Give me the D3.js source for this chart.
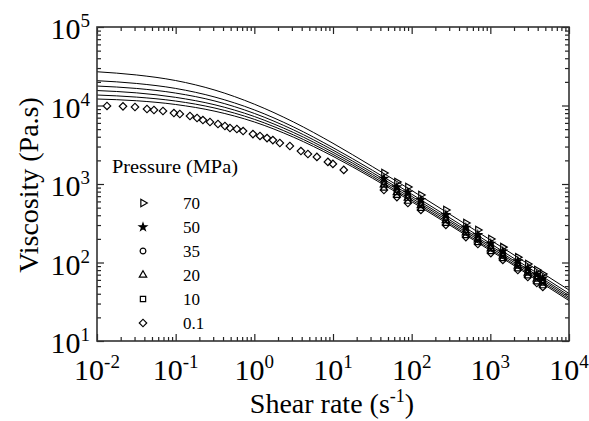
<!DOCTYPE html>
<html>
<head>
<meta charset="utf-8">
<script src="https://cdn.jsdelivr.net/npm/d3@7"></script>
<style>
  body { margin: 0; background: #fff; }
  text { font-family: "Liberation Serif", "Times New Roman", serif; fill: #000; }
</style>
</head>
<body>
<div id="chart"></div>
<script>
// pressures (MPa), top to bottom in legend
const pressures = ['70', '50', '35', '20', '10', '0.1'];

// fitted curves
const fitRates = [0.01, 0.0316, 0.1, 0.316, 1, 3.16, 10, 31.6, 100, 1000, 10000];
const fit70 = [26900, 24500, 20800, 15700, 10400, 6150, 3300, 1670, 828, 194, 44.6];
const fit50 = [20700, 19100, 16500, 12800, 8790, 5320, 2900, 1500, 743, 175, 40.3];
const fit35 = [17700, 16500, 14400, 11400, 7930, 4880, 2700, 1400, 697, 164, 37.9];
const fit20 = [15500, 14500, 12700, 10200, 7240, 4520, 2530, 1320, 659, 156, 36.0];
const fit10 = [13600, 12800, 11400, 9270, 6670, 4210, 2380, 1250, 625, 148, 34.3];
const fit01 = [12100, 11500, 10300, 8450, 6170, 3940, 2250, 1190, 596, 142, 32.7];

// high shear measurements (all pressures)
const highRates = [44.4, 64.9, 89.5, 131, 272, 489, 694, 1015, 1442, 2235, 2993, 3896, 4645];
const visc70 = [1380, 1060, 916, 724, 467, 318, 259, 199, 157, 117, 95.7, 80.2, 71.4];
const visc50 = [1170, 916, 785, 627, 404, 278, 226, 174, 139, 104, 84.3, 70.8, 63.0];
const visc35 = [1060, 841, 716, 575, 371, 257, 209, 161, 129, 96.2, 78.3, 65.8, 58.5];
const visc20 = [977, 780, 661, 533, 344, 239, 195, 150, 121, 90.2, 73.5, 61.5, 54.8];
const visc10 = [903, 728, 614, 498, 321, 224, 183, 140, 114, 84.7, 69.0, 57.9, 51.5];
const visc01 = [839, 682, 573, 467, 301, 211, 172, 132, 108, 80.2, 65.3, 54.8, 48.8];

// low shear measurements at 0.1 MPa
const lowRates01 = [0.0134, 0.0214, 0.0304, 0.0432, 0.053, 0.069, 0.095, 0.113, 0.152, 0.187,
  0.222, 0.273, 0.345, 0.423, 0.49, 0.60, 0.72, 0.96, 1.18, 1.45,
  1.72, 2.11, 2.83, 3.91, 4.80, 6.24, 8.61, 9.97, 13.7];
const lowVisc01 = [9860, 9750, 9570, 9020, 8760, 8510, 8020, 7790, 7350, 6930,
  6530, 6160, 5810, 5480, 5170, 5020, 4730, 4330, 4090, 3850,
  3630, 3330, 3050, 2630, 2410, 2210, 1910, 1800, 1510];

const xMajor = [-2, -1, 0, 1, 2, 3, 4];
const yMajor = [1, 2, 3, 4, 5];

const width = 589;
const height = 421;
const margin = {top: 27, right: 20, bottom: 80, left: 97};

const svg = d3.select('#chart')
    .append('svg')
    .attr('width', width)
    .attr('height', height);

const x = d3.scaleLog()
    .domain([1e-2, 1e4])
    .range([margin.left, width - margin.right]);

const y = d3.scaleLog()
    .domain([10, 1e5])
    .range([height - margin.bottom, margin.top]);

// minor tick values
const minors = (lo, hi) => {
    const out = [];
    for (let e = lo; e < hi; e++) {
        for (let k = 2; k <= 9; k++) out.push(k * Math.pow(10, e));
    }
    return out;
};
const xMinor = minors(-2, 4);
const yMinor = minors(1, 5);

// fit curves
const fits = [fit70, fit50, fit35, fit20, fit10, fit01];
const line = d3.line()
    .x((d, i) => x(fitRates[i]))
    .y(d => y(d))
    .curve(d3.curveMonotoneX);

svg.append('g')
    .selectAll('path')
    .data(fits)
    .join('path')
    .attr('d', d => line(d))
    .attr('fill', 'none')
    .attr('stroke', '#000')
    .attr('stroke-width', 1);

// symbols
const shapes = {
    '70': {d: d3.symbol().type(d3.symbolTriangle).size(24)(), rot: 90, fill: false},
    '50': {d: d3.symbol().type(d3.symbolStar).size(17)(), rot: 0, fill: true},
    '35': {d: d3.symbol().type(d3.symbolCircle).size(26)(), rot: 0, fill: false},
    '20': {d: d3.symbol().type(d3.symbolTriangle).size(24)(), rot: 0, fill: false},
    '10': {d: d3.symbol().type(d3.symbolSquare).size(28)(), rot: 0, fill: false},
    '0.1': {d: d3.symbol().type(d3.symbolSquare).size(28)(), rot: 45, fill: false}
};

function drawSymbol(g, key, cx, cy) {
    const s = shapes[key];
    g.append('path')
        .attr('d', s.d)
        .attr('transform', `translate(${cx},${cy}) rotate(${s.rot})`)
        .attr('fill', s.fill ? '#000' : 'none')
        .attr('stroke', '#000')
        .attr('stroke-width', 1.2);
}

const pts = svg.append('g');
lowRates01.forEach((r, i) => drawSymbol(pts, '0.1', x(r), y(lowVisc01[i])));
const highSets = [visc01, visc10, visc20, visc35, visc50, visc70];
const highKeys = ['0.1', '10', '20', '35', '50', '70'];
highSets.forEach((set, j) => {
    set.forEach((v, i) => drawSymbol(pts, highKeys[j], x(highRates[i]), y(v)));
});

// axes: ticks pointing inward on all four sides
const axisG = svg.append('g');
function ticks(axis, vals, size) {
    return axis.tickValues(vals).tickSize(-size).tickSizeOuter(0).tickFormat('');
}
const bottom = height - margin.bottom;
const right = width - margin.right;
[[d3.axisBottom, `translate(0,${bottom})`, x, xMajor.map(e => Math.pow(10, e)), xMinor],
 [d3.axisTop, `translate(0,${margin.top})`, x, xMajor.map(e => Math.pow(10, e)), xMinor],
 [d3.axisLeft, `translate(${margin.left},0)`, y, yMajor.map(e => Math.pow(10, e)), yMinor],
 [d3.axisRight, `translate(${right},0)`, y, yMajor.map(e => Math.pow(10, e)), yMinor]
].forEach(([ax, tr, sc, maj, min]) => {
    const gMaj = axisG.append('g').attr('transform', tr).call(ticks(ax(sc), maj, 7));
    const gMin = axisG.append('g').attr('transform', tr).call(ticks(ax(sc), min, 4));
    [gMaj, gMin].forEach(g => {
        g.select('.domain').remove();
        g.selectAll('line').attr('stroke', '#222').attr('stroke-width', 1.2);
    });
});

svg.append('rect')
    .attr('x', margin.left)
    .attr('y', margin.top)
    .attr('width', right - margin.left)
    .attr('height', bottom - margin.top)
    .attr('fill', 'none')
    .attr('stroke', '#333')
    .attr('stroke-width', 1.6);

// tick labels with superscript exponents
const xl = svg.append('g')
    .selectAll('text')
    .data(xMajor)
    .join('text')
    .attr('x', d => x(Math.pow(10, d)))
    .attr('y', 380)
    .attr('text-anchor', 'middle')
    .attr('font-size', 30);
xl.append('tspan').text('10');
xl.append('tspan').attr('font-size', 19).attr('dy', -12).text(d => d);

const yl = svg.append('g')
    .selectAll('text')
    .data(yMajor)
    .join('text')
    .attr('x', 90)
    .attr('y', d => y(Math.pow(10, d)) + 12)
    .attr('text-anchor', 'end')
    .attr('font-size', 30);
yl.append('tspan').text('10');
yl.append('tspan').attr('font-size', 19).attr('dy', -12).text(d => d);

// axis titles
const xt = svg.append('text')
    .attr('x', 332)
    .attr('y', 413)
    .attr('text-anchor', 'middle')
    .attr('font-size', 28);
xt.append('tspan').text('Shear rate (s');
xt.append('tspan').attr('font-size', 18).attr('dy', -11).text('-1');
xt.append('tspan').attr('dy', 11).text(')');

svg.append('text')
    .attr('transform', 'translate(38,185) rotate(-90)')
    .attr('text-anchor', 'middle')
    .attr('font-size', 28)
    .text('Viscosity (Pa.s)');

// legend
svg.append('text')
    .attr('x', 112)
    .attr('y', 173)
    .attr('font-size', 19)
    .attr('textLength', 126)
    .attr('lengthAdjust', 'spacingAndGlyphs')
    .text('Pressure (MPa)');

const leg = svg.append('g');
pressures.forEach((p, i) => {
    const cy = 203 + i * 24;
    drawSymbol(leg, p, 143, cy);
    leg.append('text')
        .attr('x', 183)
        .attr('y', cy + 6)
        .attr('font-size', 17)
        .text(p);
});
</script>
</body>
</html>
